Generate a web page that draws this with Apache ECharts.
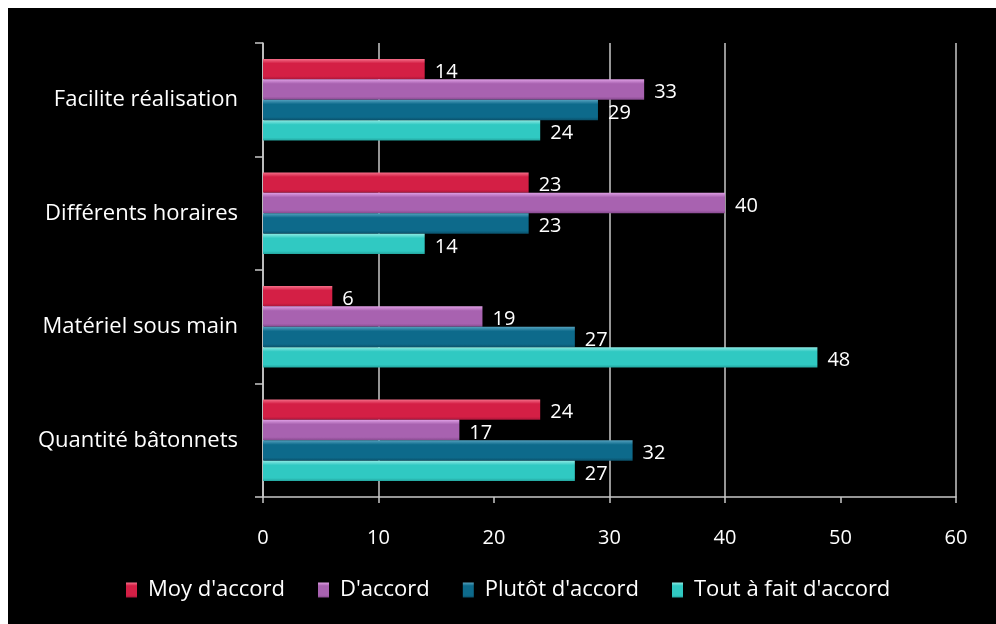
<!DOCTYPE html>
<html>
<head>
<meta charset="utf-8">
<script src="https://cdn.jsdelivr.net/npm/echarts@6/dist/echarts.min.js"></script>
<style>
  html, body { margin: 0; padding: 0; background: #ffffff; overflow: hidden; width: 100%; height: 100%; }
  #chart { position: fixed; left: 8px; top: 8px; right: 0; bottom: 0; background: #000; }
</style>
</head>
<body>
<div id="chart"></div>
<script>
// Survey answers per criterion (percent)
const categories = ['Facilite réalisation', 'Différents horaires', 'Matériel sous main', 'Quantité bâtonnets'];
const seriesNames = ['Moy d\'accord', 'D\'accord', 'Plutôt d\'accord', 'Tout à fait d\'accord'];
const moyAccord = [14, 23, 6, 24];
const dAccord = [33, 40, 19, 17];
const plutotAccord = [29, 23, 27, 32];
const toutAFait = [24, 14, 48, 27];
const xTicks = [0, 10, 20, 30, 40, 50, 60];

// Bevelled fill: light top edge, flat body, darker bottom edge
function bevel(light, main, dark) {
  return {
    type: 'linear', x: 0, y: 0, x2: 0, y2: 1,
    colorStops: [
      { offset: 0, color: light },
      { offset: 0.22, color: main },
      { offset: 0.85, color: main },
      { offset: 1, color: dark }
    ]
  };
}
const fills = [
  bevel('#f6708a', '#d41f45', '#a9163a'),
  bevel('#de9ee4', '#a862b0', '#874a8f'),
  bevel('#55a2bf', '#0d6a8b', '#0a516b'),
  bevel('#8eeae4', '#30c9c2', '#23a49e')
];
const values = [moyAccord, dAccord, plutotAccord, toutAFait];

const font = '"Open Sans", sans-serif';
const grid = '#c8c8c8';
const hidden = 'rgba(0,0,0,0)';

const chart = echarts.init(document.getElementById('chart'));
chart.setOption({
  backgroundColor: '#000',
  animation: false,
  grid: { left: 255, right: 40, top: 35, bottom: 127 },
  legend: {
    left: 113,
    top: 566,
    itemWidth: 11,
    itemHeight: 15,
    itemGap: 33,
    icon: 'rect',
    textStyle: { color: '#fff', fontSize: 22, fontFamily: font, padding: [0, 0, 0, 6] },
    data: seriesNames
  },
  xAxis: {
    type: 'value',
    min: xTicks[0],
    max: xTicks[xTicks.length - 1],
    interval: 10,
    axisLine: { show: true, lineStyle: { color: grid, width: 1.5 } },
    axisTick: { show: true, length: 6, lineStyle: { color: grid, width: 1.5 } },
    axisLabel: { color: '#fff', fontSize: 20, fontFamily: font, margin: 31 },
    splitLine: {
      show: true,
      lineStyle: { color: [grid, grid, hidden, grid, grid, hidden, grid], width: 1.5 }
    }
  },
  yAxis: {
    type: 'category',
    inverse: true,
    data: categories,
    axisLine: { show: true, lineStyle: { color: grid, width: 1.5 } },
    axisTick: { show: true, length: 8, lineStyle: { color: grid, width: 1.5 } },
    axisLabel: { color: '#fff', fontSize: 22, fontFamily: font, margin: 25 }
  },
  series: seriesNames.map((name, i) => ({
    name: name,
    type: 'bar',
    data: values[i],
    barGap: '0%',
    barCategoryGap: '28%',
    itemStyle: { color: fills[i] },
    label: {
      show: true,
      position: 'right',
      distance: 10,
      offset: [0, 3],
      color: '#fff',
      fontSize: 20,
      fontFamily: font
    }
  }))
});
</script>
</body>
</html>
